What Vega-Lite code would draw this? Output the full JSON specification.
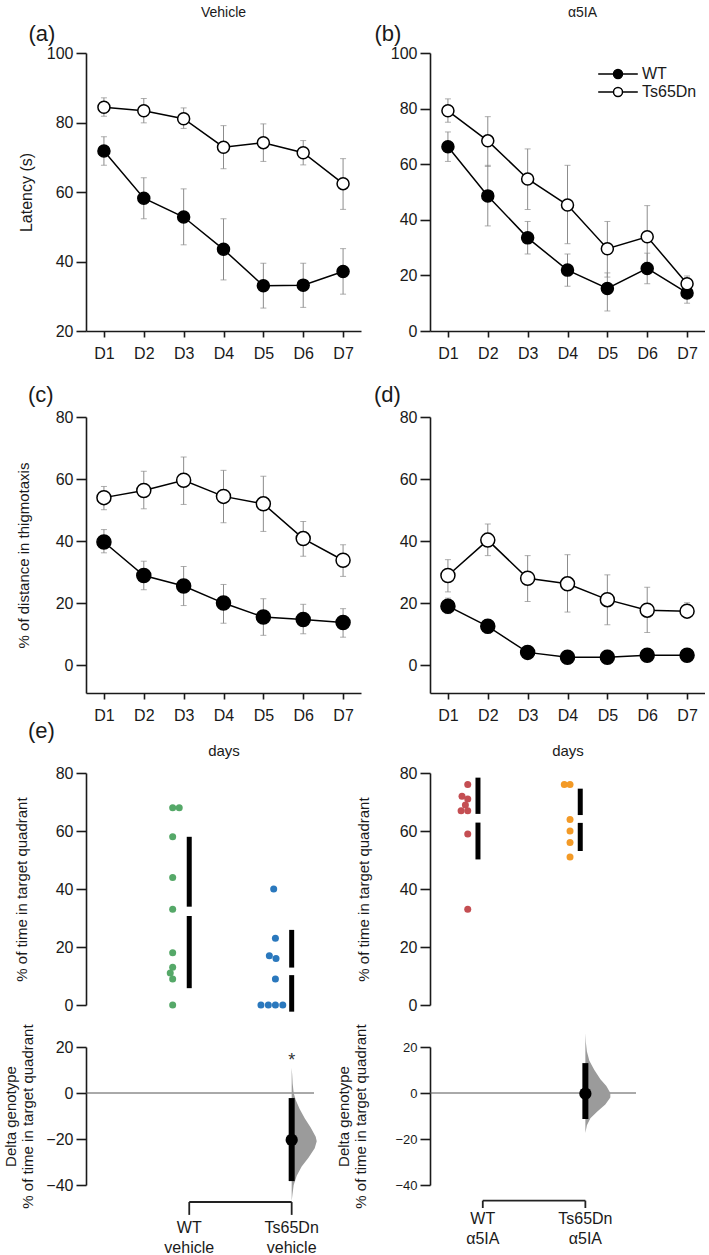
{
"$schema":"https://vega.github.io/schema/vega-lite/v6.json",
"background":"white",
"padding":{"left":3,"top":6,"right":0,"bottom":0},
"bounds":"flush",
"columns":2,
"spacing":{"row":80,"column":69},
"config":{
 "font":"Liberation Sans",
 "view":{"stroke":null},
 "axis":{"grid":false,"domainColor":"#1a1a1a","tickColor":"#1a1a1a","domainWidth":1.6,"tickWidth":1.6,"labelFontSize":16,"titleFontSize":15,"titleFontWeight":"normal","labelColor":"#1a1a1a","titleColor":"#1a1a1a","labelFlush":false,"labelOverlap":false,"tickSize":10,"labelPadding":3,"titlePadding":8},
 "axisX":{"tickSize":6,"labelPadding":8,"labelAngle":0,"titlePadding":20},
 "title":{"fontWeight":"normal","fontSize":15,"color":"#1a1a1a","font":"Liberation Sans"},
 "legend":{"padding":0,"labelFont":"Liberation Sans"}
},
"resolve":{"scale":{"x":"independent","y":"independent","fill":"independent","color":"independent"},"legend":{"fill":"independent","color":"independent"}},
"datasets":{
 "vehLat":[
  {"day":"D1","genotype":"WT","mean":71.8,"lo":67.7,"hi":75.9},
  {"day":"D2","genotype":"WT","mean":58.2,"lo":52.3,"hi":64.1},
  {"day":"D3","genotype":"WT","mean":52.8,"lo":44.8,"hi":60.9},
  {"day":"D4","genotype":"WT","mean":43.5,"lo":34.7,"hi":52.3},
  {"day":"D5","genotype":"WT","mean":33.0,"lo":26.6,"hi":39.5},
  {"day":"D6","genotype":"WT","mean":33.2,"lo":26.8,"hi":39.5},
  {"day":"D7","genotype":"WT","mean":37.1,"lo":30.6,"hi":43.7},
  {"day":"D1","genotype":"Ts65Dn","mean":84.4,"lo":81.8,"hi":87.1},
  {"day":"D2","genotype":"Ts65Dn","mean":83.4,"lo":79.9,"hi":86.9},
  {"day":"D3","genotype":"Ts65Dn","mean":81.1,"lo":78.3,"hi":84.2},
  {"day":"D4","genotype":"Ts65Dn","mean":72.9,"lo":66.7,"hi":79.1},
  {"day":"D5","genotype":"Ts65Dn","mean":74.2,"lo":68.8,"hi":79.6},
  {"day":"D6","genotype":"Ts65Dn","mean":71.3,"lo":67.8,"hi":74.8},
  {"day":"D7","genotype":"Ts65Dn","mean":62.4,"lo":55.0,"hi":69.6}
 ],
 "a5Lat":[
  {"day":"D1","genotype":"WT","mean":66.3,"lo":61.0,"hi":71.6},
  {"day":"D2","genotype":"WT","mean":48.6,"lo":37.8,"hi":59.6},
  {"day":"D3","genotype":"WT","mean":33.5,"lo":27.7,"hi":39.4},
  {"day":"D4","genotype":"WT","mean":21.9,"lo":16.1,"hi":27.7},
  {"day":"D5","genotype":"WT","mean":15.3,"lo":7.2,"hi":20.9},
  {"day":"D6","genotype":"WT","mean":22.5,"lo":17.0,"hi":28.0},
  {"day":"D7","genotype":"WT","mean":13.7,"lo":10.0,"hi":16.1},
  {"day":"D1","genotype":"Ts65Dn","mean":79.2,"lo":75.1,"hi":83.5},
  {"day":"D2","genotype":"Ts65Dn","mean":68.4,"lo":59.2,"hi":77.1},
  {"day":"D3","genotype":"Ts65Dn","mean":54.7,"lo":43.7,"hi":65.5},
  {"day":"D4","genotype":"Ts65Dn","mean":45.3,"lo":31.4,"hi":59.6},
  {"day":"D5","genotype":"Ts65Dn","mean":29.6,"lo":19.4,"hi":39.4},
  {"day":"D6","genotype":"Ts65Dn","mean":33.9,"lo":24.7,"hi":45.1},
  {"day":"D7","genotype":"Ts65Dn","mean":17.0,"lo":14.3,"hi":19.8}
 ],
 "vehThig":[
  {"day":"D1","genotype":"WT","mean":39.7,"lo":36.2,"hi":43.7},
  {"day":"D2","genotype":"WT","mean":28.9,"lo":24.3,"hi":33.5},
  {"day":"D3","genotype":"WT","mean":25.5,"lo":19.2,"hi":31.8},
  {"day":"D4","genotype":"WT","mean":20.0,"lo":13.5,"hi":26.0},
  {"day":"D5","genotype":"WT","mean":15.5,"lo":9.6,"hi":21.4},
  {"day":"D6","genotype":"WT","mean":14.7,"lo":10.1,"hi":19.6},
  {"day":"D7","genotype":"WT","mean":13.7,"lo":9.0,"hi":18.2},
  {"day":"D1","genotype":"Ts65Dn","mean":54.0,"lo":50.1,"hi":57.6},
  {"day":"D2","genotype":"Ts65Dn","mean":56.3,"lo":50.4,"hi":62.5},
  {"day":"D3","genotype":"Ts65Dn","mean":59.6,"lo":51.8,"hi":67.1},
  {"day":"D4","genotype":"Ts65Dn","mean":54.4,"lo":45.9,"hi":62.8},
  {"day":"D5","genotype":"Ts65Dn","mean":52.0,"lo":43.1,"hi":60.9},
  {"day":"D6","genotype":"Ts65Dn","mean":40.8,"lo":35.1,"hi":46.3},
  {"day":"D7","genotype":"Ts65Dn","mean":33.8,"lo":28.6,"hi":38.8}
 ],
 "a5Thig":[
  {"day":"D1","genotype":"WT","mean":19.0,"lo":16.6,"hi":21.6},
  {"day":"D2","genotype":"WT","mean":12.5,"lo":10.2,"hi":14.7},
  {"day":"D3","genotype":"WT","mean":4.1,"lo":3.0,"hi":5.2},
  {"day":"D4","genotype":"WT","mean":2.5,"lo":1.8,"hi":3.2},
  {"day":"D5","genotype":"WT","mean":2.5,"lo":0.5,"hi":4.8},
  {"day":"D6","genotype":"WT","mean":3.2,"lo":2.5,"hi":3.9},
  {"day":"D7","genotype":"WT","mean":3.2,"lo":2.5,"hi":3.9},
  {"day":"D1","genotype":"Ts65Dn","mean":28.9,"lo":23.6,"hi":34.0},
  {"day":"D2","genotype":"Ts65Dn","mean":40.3,"lo":35.3,"hi":45.5},
  {"day":"D3","genotype":"Ts65Dn","mean":28.0,"lo":20.5,"hi":35.3},
  {"day":"D4","genotype":"Ts65Dn","mean":26.2,"lo":17.1,"hi":35.6},
  {"day":"D5","genotype":"Ts65Dn","mean":21.1,"lo":13.0,"hi":29.1},
  {"day":"D6","genotype":"Ts65Dn","mean":17.7,"lo":10.5,"hi":25.1},
  {"day":"D7","genotype":"Ts65Dn","mean":17.4,"lo":15.3,"hi":20.1}
 ],
 "swarmVeh":[
  {"group":"WT vehicle","pos":1.0,"value":68},
  {"group":"WT vehicle","pos":1.065,"value":68},
  {"group":"WT vehicle","pos":1.0,"value":58},
  {"group":"WT vehicle","pos":1.0,"value":44},
  {"group":"WT vehicle","pos":1.0,"value":33},
  {"group":"WT vehicle","pos":1.0,"value":18},
  {"group":"WT vehicle","pos":1.0,"value":13},
  {"group":"WT vehicle","pos":0.976,"value":11},
  {"group":"WT vehicle","pos":1.0,"value":9},
  {"group":"WT vehicle","pos":1.0,"value":0},
  {"group":"Ts65Dn vehicle","pos":2.0,"value":40},
  {"group":"Ts65Dn vehicle","pos":2.017,"value":23},
  {"group":"Ts65Dn vehicle","pos":1.957,"value":17},
  {"group":"Ts65Dn vehicle","pos":2.023,"value":16},
  {"group":"Ts65Dn vehicle","pos":2.017,"value":9},
  {"group":"Ts65Dn vehicle","pos":1.874,"value":0},
  {"group":"Ts65Dn vehicle","pos":1.947,"value":0},
  {"group":"Ts65Dn vehicle","pos":2.017,"value":0},
  {"group":"Ts65Dn vehicle","pos":2.09,"value":0}
 ],
 "swarmA5":[
  {"group":"WT α5IA","pos":1.0,"value":76},
  {"group":"WT α5IA","pos":0.944,"value":72},
  {"group":"WT α5IA","pos":1.0,"value":71},
  {"group":"WT α5IA","pos":0.977,"value":69},
  {"group":"WT α5IA","pos":0.935,"value":67},
  {"group":"WT α5IA","pos":1.0,"value":67},
  {"group":"WT α5IA","pos":1.0,"value":59},
  {"group":"WT α5IA","pos":1.0,"value":33},
  {"group":"Ts65Dn α5IA","pos":1.944,"value":76},
  {"group":"Ts65Dn α5IA","pos":2.0,"value":76},
  {"group":"Ts65Dn α5IA","pos":2.0,"value":64},
  {"group":"Ts65Dn α5IA","pos":2.0,"value":60},
  {"group":"Ts65Dn α5IA","pos":2.0,"value":56},
  {"group":"Ts65Dn α5IA","pos":2.0,"value":51}
 ],
 "barsVeh":[
  {"group":"WT vehicle","pos":1.164,"from":58.0,"to":33.9},
  {"group":"WT vehicle","pos":1.164,"from":30.7,"to":5.8},
  {"group":"Ts65Dn vehicle","pos":2.178,"from":25.9,"to":12.9},
  {"group":"Ts65Dn vehicle","pos":2.178,"from":10.3,"to":-2.3}
 ],
 "barsA5":[
  {"group":"WT α5IA","pos":1.10,"from":78.4,"to":65.9},
  {"group":"WT α5IA","pos":1.10,"from":62.9,"to":50.2},
  {"group":"Ts65Dn α5IA","pos":2.10,"from":74.6,"to":65.5},
  {"group":"Ts65Dn α5IA","pos":2.10,"from":62.8,"to":53.1}
 ],
 "deltaVeh":[{"group":"Ts65Dn vehicle","pos":2.178,"mean":-20.4,"lo":-38.3,"hi":-2.2,"sig":"*"}],
 "deltaA5":[{"group":"Ts65Dn α5IA","pos":2.15,"mean":-0.3,"lo":-11.3,"hi":13.0,"sig":""}],
 "densVeh":[
  {"value":11,"edge":2.178},{"value":8,"edge":2.183},{"value":4,"edge":2.188},{"value":0,"edge":2.198},
  {"value":-3,"edge":2.218},{"value":-7,"edge":2.257},{"value":-11,"edge":2.307},{"value":-15,"edge":2.366},
  {"value":-19,"edge":2.416},{"value":-21,"edge":2.426},{"value":-24,"edge":2.406},{"value":-28,"edge":2.346},
  {"value":-32,"edge":2.277},{"value":-36,"edge":2.228},{"value":-40,"edge":2.198},{"value":-44,"edge":2.186},{"value":-47,"edge":2.178}
 ],
 "densA5":[
  {"value":26,"edge":2.15},{"value":22,"edge":2.155},{"value":18,"edge":2.165},{"value":14,"edge":2.189},
  {"value":10,"edge":2.238},{"value":6,"edge":2.297},{"value":3,"edge":2.355},{"value":0,"edge":2.394},
  {"value":-2,"edge":2.394},{"value":-5,"edge":2.345},{"value":-8,"edge":2.267},{"value":-11,"edge":2.199},
  {"value":-14,"edge":2.165},{"value":-17.4,"edge":2.15}
 ],
 "groupsVeh":[{"label":"WT\nvehicle","pos":1.164},{"label":"Ts65Dn\nvehicle","pos":2.178}],
 "groupsA5":[{"label":"WT\nα5IA","pos":1.147},{"label":"Ts65Dn\nα5IA","pos":2.15}]
},
"concat":[
 {"width":275,"height":284,"data":{"name":"vehLat"},
  "title":{"text":"Vehicle","anchor":"middle","frame":"group","fontSize":14,"offset":2},
  "resolve":{"axis":{"x":"independent"}},
  "layer":[
   {"mark":{"type":"errorbar","ticks":{"size":6},"color":"#8c8c8c","thickness":1},
    "encoding":{"x":{"field":"day","type":"ordinal","scale":{"type":"point","padding":0.45},"axis":{"title":null,"offset":-6}},
     "y":{"field":"lo","type":"quantitative","scale":{"domain":[20,100],"range":[278,0],"nice":false,"zero":false},"axis":{"values":[20,30,40,50,60,70,80,90,100],"title":"Latency (s)","titleFontSize":16,"titlePadding":12}},
     "y2":{"field":"hi"}}},
   {"mark":{"type":"line","color":"black","strokeWidth":1.5},
    "encoding":{"x":{"field":"day","type":"ordinal","axis":{"orient":"top","title":"(a)","titleFontSize":22,"domain":false,"ticks":false,"labels":false,"titleX":-58,"titleY":-20,"titleAlign":"left","titleBaseline":"middle","titleAngle":0}},"y":{"field":"mean","type":"quantitative"},"detail":{"field":"genotype"}}},
   {"mark":{"type":"point","filled":true,"stroke":"black","strokeWidth":1.5,"size":144,"opacity":1},
    "encoding":{"x":{"field":"day","type":"ordinal","axis":null},"y":{"field":"mean","type":"quantitative"},
     "fill":{"field":"genotype","type":"nominal","scale":{"domain":["WT","Ts65Dn"],"range":["black","white"]},"legend":null}}}
  ]},
 {"width":275,"height":284,"data":{"name":"a5Lat"},
  "title":{"text":"α5IA","anchor":"middle","frame":"group","fontSize":14,"offset":2,"dx":15},
  "resolve":{"axis":{"x":"independent"}},
  "layer":[
   {"mark":{"type":"errorbar","ticks":{"size":6},"color":"#8c8c8c","thickness":1},
    "encoding":{"x":{"field":"day","type":"ordinal","scale":{"type":"point","padding":0.45},"axis":{"title":null,"offset":-6}},
     "y":{"field":"lo","type":"quantitative","scale":{"domain":[0,100],"range":[278,0],"nice":false,"zero":false},"axis":{"values":[0,20,40,60,80,100],"title":null}},
     "y2":{"field":"hi"}}},
   {"mark":{"type":"line","color":"black","strokeWidth":1.5},
    "encoding":{"x":{"field":"day","type":"ordinal","axis":{"orient":"top","title":"(b)","titleFontSize":22,"domain":false,"ticks":false,"labels":false,"titleX":-56,"titleY":-20,"titleAlign":"left","titleBaseline":"middle","titleAngle":0}},"y":{"field":"mean","type":"quantitative"},"detail":{"field":"genotype"}}},
   {"mark":{"type":"point","filled":true,"stroke":"black","strokeWidth":1.5,"size":144,"opacity":1},
    "encoding":{"x":{"field":"day","type":"ordinal","axis":null},"y":{"field":"mean","type":"quantitative"},
     "fill":{"field":"genotype","type":"nominal","scale":{"domain":["WT","Ts65Dn"],"range":["black","white"]},
      "legend":{"orient":"none","legendX":178,"legendY":11,"title":null,"symbolType":"M-2.2,0L-0.5,0M0.5,0L2.2,0M-0.5,0A0.5,0.5,0,1,0,0.5,0A0.5,0.5,0,1,0,-0.5,0Z","symbolSize":324,"symbolStrokeColor":"black","symbolStrokeWidth":1.5,"labelFontSize":16,"labelOffset":14,"rowPadding":0,"labelColor":"#1a1a1a"}}}}
  ]},
 {"width":275,"height":276,"data":{"name":"vehThig"},
  "title":{"text":"(c)","anchor":"start","frame":"group","dx":-58,"fontSize":22,"offset":2},
  "layer":[
   {"mark":{"type":"errorbar","ticks":{"size":6},"color":"#8c8c8c","thickness":1},
    "encoding":{"x":{"field":"day","type":"ordinal","scale":{"type":"point","padding":0.45},"axis":{"title":"days"}},
     "y":{"field":"lo","type":"quantitative","scale":{"domain":[-9,80],"nice":false,"zero":false},"axis":{"values":[0,20,40,60,80],"title":"% of distance in thigmotaxis","titlePadding":24}},
     "y2":{"field":"hi"}}},
   {"mark":{"type":"line","color":"black","strokeWidth":1.5},
    "encoding":{"x":{"field":"day","type":"ordinal"},"y":{"field":"mean","type":"quantitative"},"detail":{"field":"genotype"}}},
   {"mark":{"type":"point","filled":true,"stroke":"black","strokeWidth":1.5,"size":196,"opacity":1},
    "encoding":{"x":{"field":"day","type":"ordinal"},"y":{"field":"mean","type":"quantitative"},
     "fill":{"field":"genotype","type":"nominal","scale":{"domain":["WT","Ts65Dn"],"range":["black","white"]},"legend":null}}}
  ]},
 {"width":275,"height":276,"data":{"name":"a5Thig"},
  "title":{"text":"(d)","anchor":"start","frame":"group","dx":-56,"fontSize":22,"offset":2},
  "layer":[
   {"mark":{"type":"errorbar","ticks":{"size":6},"color":"#8c8c8c","thickness":1},
    "encoding":{"x":{"field":"day","type":"ordinal","scale":{"type":"point","padding":0.45},"axis":{"title":"days"}},
     "y":{"field":"lo","type":"quantitative","scale":{"domain":[-9,80],"nice":false,"zero":false},"axis":{"values":[0,20,40,60,80],"title":null}},
     "y2":{"field":"hi"}}},
   {"mark":{"type":"line","color":"black","strokeWidth":1.5},
    "encoding":{"x":{"field":"day","type":"ordinal"},"y":{"field":"mean","type":"quantitative"},"detail":{"field":"genotype"}}},
   {"mark":{"type":"point","filled":true,"stroke":"black","strokeWidth":1.5,"size":196,"opacity":1},
    "encoding":{"x":{"field":"day","type":"ordinal"},"y":{"field":"mean","type":"quantitative"},
     "fill":{"field":"genotype","type":"nominal","scale":{"domain":["WT","Ts65Dn"],"range":["black","white"]},"legend":null}}}
  ]},
 {"width":228,"height":194,
  "title":{"text":"(e)","anchor":"start","frame":"group","dx":-58,"fontSize":22,"offset":22},
  "layer":[
   {"data":{"name":"swarmVeh"},"mark":{"type":"circle","size":49,"opacity":1},
    "encoding":{"x":{"field":"pos","type":"quantitative","scale":{"domain":[0.142,2.399],"nice":false,"zero":false},"axis":null},
     "y":{"field":"value","type":"quantitative","scale":{"domain":[0,80],"range":[232,0],"nice":false,"zero":false},"axis":{"values":[0,20,40,60,80],"title":"% of time in target quadrant","titlePadding":26}},
     "color":{"field":"group","type":"nominal","scale":{"domain":["WT vehicle","Ts65Dn vehicle"],"range":["#55a868","#2a78bd"]},"legend":null}}},
   {"data":{"name":"barsVeh"},"mark":{"type":"rule","strokeWidth":5,"color":"black"},
    "encoding":{"x":{"field":"pos","type":"quantitative","scale":{"domain":[0.142,2.399],"nice":false,"zero":false}},
     "y":{"field":"from","type":"quantitative","scale":{"domain":[0,80],"range":[232,0],"nice":false,"zero":false}},"y2":{"field":"to"}}}
  ]},
 {"width":206,"height":194,
  "layer":[
   {"data":{"name":"swarmA5"},"mark":{"type":"circle","size":49,"opacity":1},
    "encoding":{"x":{"field":"pos","type":"quantitative","scale":{"domain":[0.631,2.645],"nice":false,"zero":false},"axis":null},
     "y":{"field":"value","type":"quantitative","scale":{"domain":[0,80],"range":[232,0],"nice":false,"zero":false},"axis":{"values":[0,20,40,60,80],"title":"% of time in target quadrant","titlePadding":28}},
     "color":{"field":"group","type":"nominal","scale":{"domain":["WT α5IA","Ts65Dn α5IA"],"range":["#c44e52","#f39a26"]},"legend":null}}},
   {"data":{"name":"barsA5"},"mark":{"type":"rule","strokeWidth":5,"color":"black"},
    "encoding":{"x":{"field":"pos","type":"quantitative","scale":{"domain":[0.631,2.645],"nice":false,"zero":false}},
     "y":{"field":"from","type":"quantitative","scale":{"domain":[0,80],"range":[232,0],"nice":false,"zero":false}},"y2":{"field":"to"}}}
  ]},
 {"width":228,"height":138,
  "layer":[
   {"data":{"name":"deltaVeh"},"mark":{"type":"rule","color":"#555555","strokeWidth":1},
    "encoding":{"y":{"datum":0,"type":"quantitative","scale":{"domain":[-40,20],"nice":false,"zero":false},"axis":{"values":[-40,-20,0,20],"title":["Delta genotype","% of time in target quadrant"],"titlePadding":10,"titleLineHeight":17}}}},
   {"data":{"name":"densVeh"},"mark":{"type":"area","orient":"horizontal","color":"#9b9b9b","opacity":1},
    "encoding":{"y":{"field":"value","type":"quantitative","scale":{"domain":[-40,20],"nice":false,"zero":false}},
     "x":{"field":"edge","type":"quantitative","scale":{"domain":[0.142,2.399],"nice":false,"zero":false},"axis":null},
     "x2":{"datum":2.178}}},
   {"data":{"name":"deltaVeh"},"mark":{"type":"rule","strokeWidth":6,"color":"black"},
    "encoding":{"x":{"field":"pos","type":"quantitative","scale":{"domain":[0.142,2.399],"nice":false,"zero":false}},
     "y":{"field":"lo","type":"quantitative","scale":{"domain":[-40,20],"nice":false,"zero":false}},"y2":{"field":"hi"}}},
   {"data":{"name":"deltaVeh"},"mark":{"type":"circle","size":150,"color":"black","opacity":1},
    "encoding":{"x":{"field":"pos","type":"quantitative","scale":{"domain":[0.142,2.399],"nice":false,"zero":false}},
     "y":{"field":"mean","type":"quantitative","scale":{"domain":[-40,20],"nice":false,"zero":false}}}},
   {"data":{"name":"deltaVeh"},"mark":{"type":"text","fontSize":18,"color":"#333333","baseline":"middle","align":"center"},
    "encoding":{"x":{"field":"pos","type":"quantitative","scale":{"domain":[0.142,2.399],"nice":false,"zero":false}},
     "y":{"datum":14,"type":"quantitative","scale":{"domain":[-40,20],"nice":false,"zero":false}},"text":{"field":"sig"}}},
   {"data":{"name":"groupsVeh"},"mark":{"type":"rule","strokeWidth":1.8,"color":"#222222"},
    "encoding":{"x":{"aggregate":"min","field":"pos","type":"quantitative","scale":{"domain":[0.142,2.399],"nice":false,"zero":false}},"x2":{"aggregate":"max","field":"pos"},
     "y":{"datum":-47.4,"type":"quantitative","scale":{"domain":[-40,20],"nice":false,"zero":false}}}},
   {"data":{"name":"groupsVeh"},"mark":{"type":"rule","strokeWidth":1.8,"color":"#222222"},
    "encoding":{"x":{"field":"pos","type":"quantitative","scale":{"domain":[0.142,2.399],"nice":false,"zero":false}},
     "y":{"datum":-47.4,"type":"quantitative","scale":{"domain":[-40,20],"nice":false,"zero":false}},"y2":{"datum":-53}}},
   {"data":{"name":"groupsVeh"},"mark":{"type":"text","fontSize":16,"lineBreak":"\n","lineHeight":20,"baseline":"top","align":"center","color":"#1a1a1a"},
    "encoding":{"x":{"field":"pos","type":"quantitative","scale":{"domain":[0.142,2.399],"nice":false,"zero":false}},
     "y":{"datum":-55.2,"type":"quantitative","scale":{"domain":[-40,20],"nice":false,"zero":false}},"text":{"field":"label"}}}
  ]},
 {"width":206,"height":138,
  "layer":[
   {"data":{"name":"deltaA5"},"mark":{"type":"rule","color":"#555555","strokeWidth":1},
    "encoding":{"y":{"datum":0,"type":"quantitative","scale":{"domain":[-40,20],"nice":false,"zero":false},"axis":{"values":[-40,-20,0,20],"labelFontSize":13,"title":["Delta genotype","% of time in target quadrant"],"titlePadding":26,"titleLineHeight":17}}}},
   {"data":{"name":"densA5"},"mark":{"type":"area","orient":"horizontal","color":"#9b9b9b","opacity":1},
    "encoding":{"y":{"field":"value","type":"quantitative","scale":{"domain":[-40,20],"nice":false,"zero":false}},
     "x":{"field":"edge","type":"quantitative","scale":{"domain":[0.631,2.645],"nice":false,"zero":false},"axis":null},
     "x2":{"datum":2.15}}},
   {"data":{"name":"deltaA5"},"mark":{"type":"rule","strokeWidth":6,"color":"black"},
    "encoding":{"x":{"field":"pos","type":"quantitative","scale":{"domain":[0.631,2.645],"nice":false,"zero":false}},
     "y":{"field":"lo","type":"quantitative","scale":{"domain":[-40,20],"nice":false,"zero":false}},"y2":{"field":"hi"}}},
   {"data":{"name":"deltaA5"},"mark":{"type":"circle","size":150,"color":"black","opacity":1},
    "encoding":{"x":{"field":"pos","type":"quantitative","scale":{"domain":[0.631,2.645],"nice":false,"zero":false}},
     "y":{"field":"mean","type":"quantitative","scale":{"domain":[-40,20],"nice":false,"zero":false}}}},
   {"data":{"name":"groupsA5"},"mark":{"type":"rule","strokeWidth":1.8,"color":"#222222"},
    "encoding":{"x":{"aggregate":"min","field":"pos","type":"quantitative","scale":{"domain":[0.631,2.645],"nice":false,"zero":false}},"x2":{"aggregate":"max","field":"pos"},
     "y":{"datum":-46.8,"type":"quantitative","scale":{"domain":[-40,20],"nice":false,"zero":false}}}},
   {"data":{"name":"groupsA5"},"mark":{"type":"rule","strokeWidth":1.8,"color":"#222222"},
    "encoding":{"x":{"field":"pos","type":"quantitative","scale":{"domain":[0.631,2.645],"nice":false,"zero":false}},
     "y":{"datum":-46.8,"type":"quantitative","scale":{"domain":[-40,20],"nice":false,"zero":false}},"y2":{"datum":-50}}},
   {"data":{"name":"groupsA5"},"mark":{"type":"text","fontSize":16,"lineBreak":"\n","lineHeight":20,"baseline":"top","align":"center","color":"#1a1a1a"},
    "encoding":{"x":{"field":"pos","type":"quantitative","scale":{"domain":[0.631,2.645],"nice":false,"zero":false}},
     "y":{"datum":-51.3,"type":"quantitative","scale":{"domain":[-40,20],"nice":false,"zero":false}},"text":{"field":"label"}}}
  ]}
]
}
